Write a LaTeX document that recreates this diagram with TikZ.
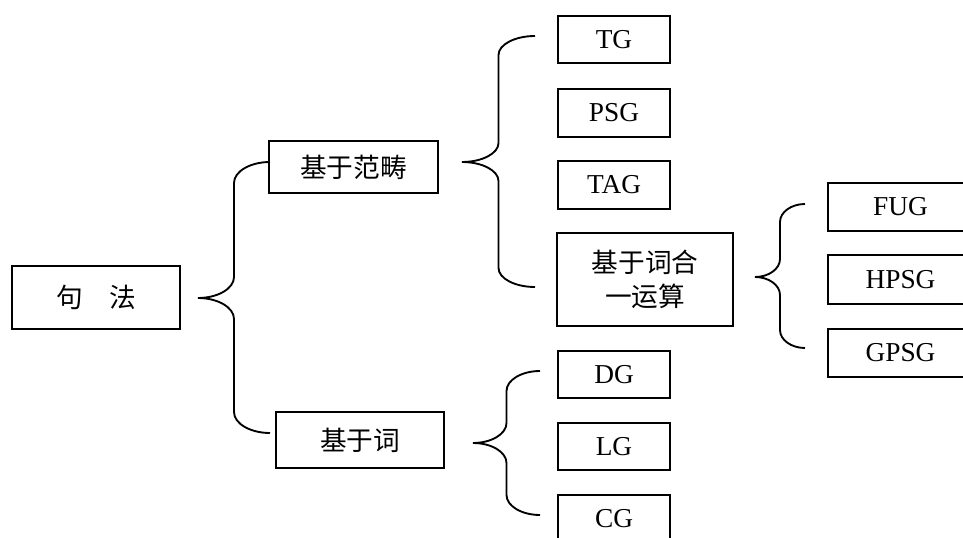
\documentclass[tikz,border=0pt]{standalone}
\usepackage{fontspec}
\setmainfont{Liberation Serif}
\newfontfamily\cjk{Noto Sans CJK SC}
\usetikzlibrary{calc}
\tikzset{
  box/.style={draw, line width=1.5pt, rectangle, inner sep=0pt, outer sep=0pt, align=center,
    font=\fontsize{20.5}{26}\selectfont},
  cbox/.style={box, font=\cjk\fontsize{20}{26}\selectfont},
  brace/.style={line width=1.4pt},
  sbox/.style={minimum width=84pt, minimum height=35.75pt},
  rbox/.style={minimum width=108.75pt, minimum height=36pt},
}
\newcommand\drawbrace[5]{%
  \draw[brace] (#2) .. controls +({-0.55*#4},0) and +(0,{-0.55*#5}) .. ($(#2)+({-#4},{#5})$)
    -- ($(#1)+({#4},{-#5})$)
    .. controls +(0,{0.55*#5}) and +({0.55*#4},0) .. (#1)
    .. controls +({0.55*#4},0) and +(0,{-0.55*#5}) .. ($(#1)+({#4},{#5})$)
    -- ($(#3)+({-#4},{-#5})$)
    .. controls +(0,{0.55*#5}) and +({-0.55*#4},0) .. (#3);}
\begin{document}
\begin{tikzpicture}[x=0.75pt,y=-0.75pt]
\useasboundingbox (0,0) rectangle (963,538);
\clip (0,0) rectangle (963,538);
% nodes
\node[cbox, minimum width=126pt, minimum height=47.25pt] (root) at (96,297.5) {句\hspace{1em}法};
\node[cbox, minimum width=126.75pt, minimum height=39pt] (cat) at (353.5,167) {基于范畴};
\node[cbox, minimum width=126pt, minimum height=42pt] (word) at (360,440) {基于词};
\node[box, sbox] (tg) at (614,39.5) {TG};
\node[box, sbox] (psg) at (614,113) {PSG};
\node[box, sbox] (tag) at (614,185) {TAG};
\node[cbox, minimum width=132pt, minimum height=69.75pt] (ccg) at (645,279.5) {基于词合\\一运算};
\node[box, rbox] (fug) at (900.5,207) {FUG};
\node[box, rbox] (hpsg) at (900.5,279.5) {HPSG};
\node[box, rbox] (gpsg) at (900.5,353) {GPSG};
\node[box, sbox] (dg) at (614,374.5) {DG};
\node[box, sbox] (lg) at (614,446.5) {LG};
\node[box, sbox] (cg) at (614,518.5) {CG};
% brace end points
\coordinate (b1tip) at ($(root.east)+(18,0.5)$);
\coordinate (b1top) at ($(cat.west)+(1,-5)$);
\coordinate (b1bot) at ($(word.west)+(-6,-7)$);
\coordinate (b2tip) at ($(cat.east)+(24,-5)$);
\coordinate (b2top) at ($(tg.west)+(-23,-3.5)$);
\coordinate (b2bot) at ($(ccg.west)+(-22,7.5)$);
\coordinate (b3tip) at ($(ccg.east)+(22,-2.5)$);
\coordinate (b3top) at ($(fug.west)+(-23,-3)$);
\coordinate (b3bot) at ($(gpsg.west)+(-23,-5)$);
\coordinate (b4tip) at ($(word.east)+(29,3)$);
\coordinate (b4top) at ($(dg.west)+(-18,-3.5)$);
\coordinate (b4bot) at ($(cg.west)+(-18,-3.5)$);
% braces
\drawbrace{b1tip}{b1top}{b1bot}{36}{21}
\drawbrace{b2tip}{b2top}{b2bot}{36.5}{19}
\drawbrace{b3tip}{b3top}{b3bot}{25}{18}
\drawbrace{b4tip}{b4top}{b4bot}{33.5}{20}
\end{tikzpicture}
\end{document}
